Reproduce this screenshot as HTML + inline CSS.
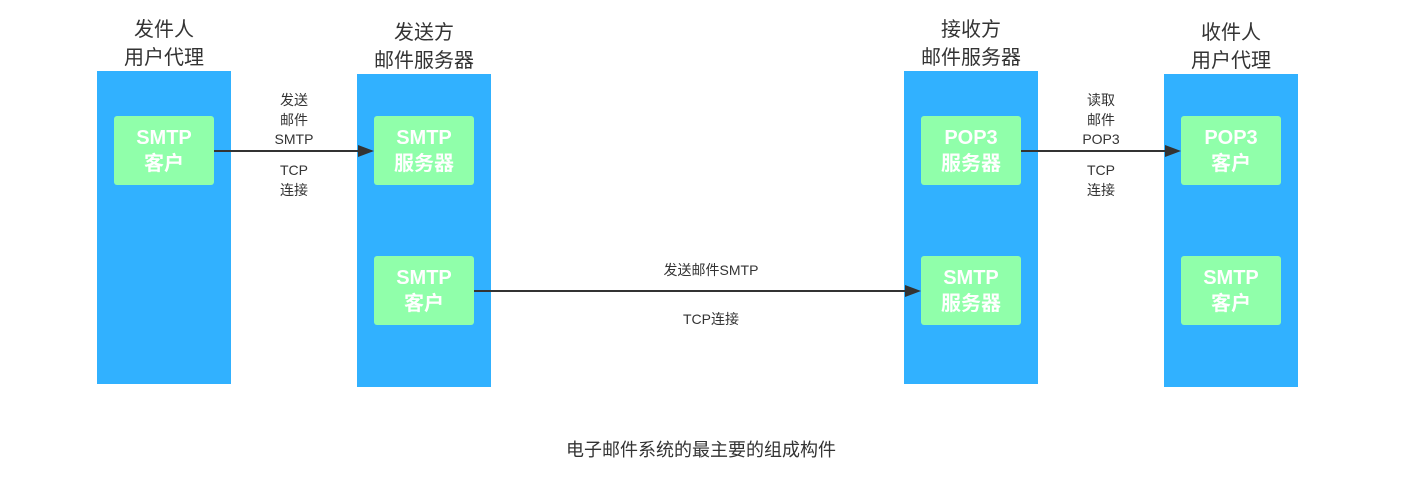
<!DOCTYPE html>
<html><head><meta charset="utf-8"><style>
body{margin:0;width:1406px;height:499px;background:#fff;position:relative;font-family:"Liberation Sans","Noto Sans CJK SC",sans-serif;overflow:hidden}
.col{position:absolute;width:134px;height:313px;background:#31b1ff}
.g{position:absolute;width:100px;height:69px;background:#90ffaa;border-radius:3px;color:#fff;font-weight:bold;font-size:20px;line-height:26px;text-align:center;display:flex;align-items:center;justify-content:center}
.t{position:absolute;width:200px;text-align:center;font-size:20px;line-height:28px;color:#333}
.l{position:absolute;width:100px;text-align:center;font-size:14px;line-height:19.5px;color:#333}
</style></head><body>
<div class="col" style="left:97px;top:71px"></div>
<div class="col" style="left:357px;top:74px"></div>
<div class="col" style="left:904px;top:71px"></div>
<div class="col" style="left:1164px;top:74px"></div>
<div class="t" style="left:64px;top:16px">发件人<br>用户代理</div>
<div class="t" style="left:324px;top:19px">发送方<br>邮件服务器</div>
<div class="t" style="left:871px;top:16px">接收方<br>邮件服务器</div>
<div class="t" style="left:1131px;top:19px">收件人<br>用户代理</div>
<div class="g" style="left:114px;top:116px">SMTP<br>客户</div>
<div class="g" style="left:374px;top:116px">SMTP<br>服务器</div>
<div class="g" style="left:374px;top:256px">SMTP<br>客户</div>
<div class="g" style="left:921px;top:116px">POP3<br>服务器</div>
<div class="g" style="left:921px;top:256px">SMTP<br>服务器</div>
<div class="g" style="left:1181px;top:116px">POP3<br>客户</div>
<div class="g" style="left:1181px;top:256px">SMTP<br>客户</div>
<svg width="1406" height="499" style="position:absolute;left:0;top:0">
<g stroke="#333" stroke-width="2" fill="#333">
<line x1="214" y1="151" x2="362" y2="151"/><polygon points="374,151 358,145 358,157" stroke="none"/>
<line x1="474" y1="291" x2="909" y2="291"/><polygon points="921,291 905,285 905,297" stroke="none"/>
<line x1="1021" y1="151" x2="1169" y2="151"/><polygon points="1181,151 1165,145 1165,157" stroke="none"/>
</g></svg>
<div class="l" style="left:244px;top:91px">发送<br>邮件<br>SMTP</div>
<div class="l" style="left:244px;top:161px">TCP<br>连接</div>
<div class="l" style="left:1051px;top:91px">读取<br>邮件<br>POP3</div>
<div class="l" style="left:1051px;top:161px">TCP<br>连接</div>
<div class="l" style="left:611px;top:261px;width:200px">发送邮件SMTP</div>
<div class="l" style="left:611px;top:310px;width:200px">TCP连接</div>
<div class="t" style="left:501px;top:436px;width:400px;font-size:18px">电子邮件系统的最主要的组成构件</div>
</body></html>
